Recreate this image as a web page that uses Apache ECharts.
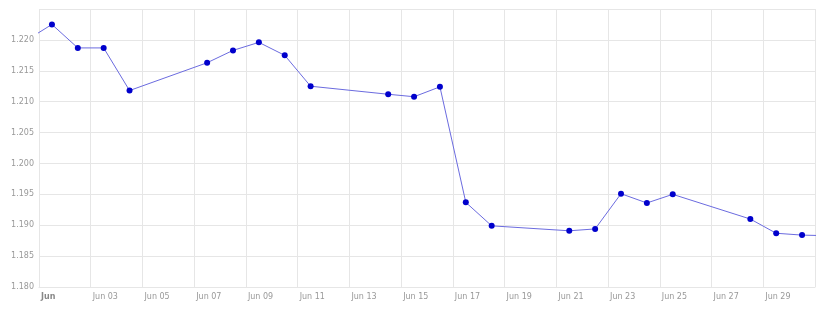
<!DOCTYPE html>
<html>
<head>
<meta charset="utf-8">
<script src="https://cdn.jsdelivr.net/npm/echarts@6/dist/echarts.min.js"></script>
<style>html,body{margin:0;padding:0;background:#fff}#c{width:820px;height:312px}</style>
</head>
<body>
<div id="c"></div>
<script>
const dates = ['2020-05-31','2020-06-01','2020-06-02','2020-06-03','2020-06-04',
  '2020-06-07','2020-06-08','2020-06-09','2020-06-10','2020-06-11',
  '2020-06-14','2020-06-15','2020-06-16','2020-06-17','2020-06-18',
  '2020-06-21','2020-06-22','2020-06-23','2020-06-24','2020-06-25',
  '2020-06-28','2020-06-29','2020-06-30','2020-07-01'];
const values = [1.2199,1.2225,1.2187,1.2187,1.2118,
  1.2163,1.2183,1.2196,1.2175,1.2125,
  1.2112,1.2108,1.2124,1.1937,1.1899,
  1.1891,1.1894,1.1951,1.1936,1.1950,
  1.1910,1.1887,1.1884,1.1883];
const xTickLabels = ['Jun','Jun 03','Jun 05','Jun 07','Jun 09','Jun 11','Jun 13','Jun 15',
  'Jun 17','Jun 19','Jun 21','Jun 23','Jun 25','Jun 27','Jun 29'];
const yMin = 1.180, yMax = 1.225, yStep = 0.005;

const DAY = 86400000;
const data = dates.map((d, i) => [d + ' 12:00', values[i]]);
const chart = echarts.init(document.getElementById('c'));
chart.setOption({
  animation: false,
  grid: {left: 39, right: 5, top: 9, bottom: 25, containLabel: false},
  xAxis: {
    type: 'time',
    min: '2020-06-01 00:00',
    max: '2020-07-01 00:00',
    minInterval: 2 * DAY,
    maxInterval: 2 * DAY,
    axisLine: {show: true, lineStyle: {color: '#e6e6e6'}},
    axisTick: {show: false},
    splitLine: {show: true, lineStyle: {color: '#e6e6e6', width: 1}},
    axisLabel: {
      color: '#999',
      fontFamily: 'DejaVu Sans',
      fontSize: 8,
      margin: 6,
      align: 'left',
      padding: [0, 0, 0, 2],
      hideOverlap: false,
      formatter: function (v) {
        const d = new Date(v);
        if (d.getMonth() !== 5) return '';
        const idx = Math.round((d.getDate() - 1) / 2);
        if ((d.getDate() - 1) % 2 !== 0) return '';
        const t = xTickLabels[idx] || '';
        return idx === 0 ? '{b|' + t + '}' : t;
      },
      rich: {b: {fontWeight: 'bold', color: '#888', fontFamily: 'DejaVu Sans', fontSize: 8}}
    }
  },
  yAxis: {
    type: 'value',
    min: yMin,
    max: yMax,
    interval: yStep,
    axisLine: {show: false},
    axisTick: {show: false},
    splitLine: {show: true, lineStyle: {color: '#e6e6e6', width: 1}},
    axisLabel: {
      color: '#999',
      fontFamily: 'DejaVu Sans',
      fontSize: 8,
      margin: 5,
      formatter: function (v) { return v > yMax - yStep / 2 ? '' : v.toFixed(3); }
    }
  },
  series: [{
    type: 'line',
    data: data,
    clip: true,
    symbol: 'circle',
    symbolSize: 6,
    showSymbol: true,
    lineStyle: {color: '#6b6bdf', width: 1},
    itemStyle: {color: '#0000cc'}
  }]
});
</script>
</body>
</html>
